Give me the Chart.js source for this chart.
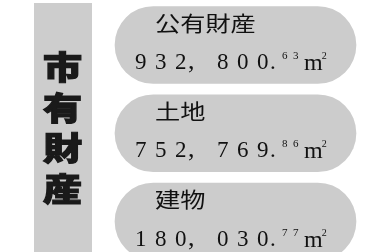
<!DOCTYPE html>
<html>
<head>
<meta charset="utf-8">
<script src="https://cdn.jsdelivr.net/npm/chart.js@4/dist/chart.umd.min.js"></script>
<style>
  body { margin: 0; background: #fff; }
  canvas { display: block; }
</style>
</head>
<body>
<canvas id="assets-chart" width="373" height="252"></canvas>
<script>
// data
const panelTitle = "市有財産";
const categories = ["公有財産", "土地", "建物"];
const areas = [932800.63, 752769.86, 180030.77];
const unitMain = "m";
const unitSup = "2";
// all three boxes are the same length in the picture
const boxLengths = [1, 1, 1];

const serif = '"Liberation Serif", "DejaVu Serif", serif';
const cjk = '"Noto Sans CJK JP", sans-serif';

function splitArea(v) {
  const parts = v.toFixed(2).split(".");
  const intPart = parts[0].replace(/\B(?=(\d{3})+(?!\d))/g, ",");
  return [intPart, parts[1]];
}

const sidePanel = {
  id: "sidePanel",
  beforeDraw(chart) {
    const ctx = chart.ctx;
    ctx.save();
    ctx.fillStyle = "#cdcdcd";
    ctx.fillRect(34, 3, 58, chart.height - 3);
    ctx.fillStyle = "#1a1a1a";
    ctx.strokeStyle = "#1a1a1a";
    ctx.lineWidth = 1.2;
    ctx.font = "900 34px " + cjk;
    ctx.textAlign = "center";
    ctx.textBaseline = "middle";
    [...panelTitle].forEach((ch, i) => {
      ctx.save();
      ctx.translate(62.5, 67 + i * 40.5);
      ctx.scale(1.15, 0.95);
      ctx.fillText(ch, 0, 0);
      ctx.strokeText(ch, 0, 0);
      ctx.restore();
    });
    ctx.restore();
  },
};

const boxText = {
  id: "boxText",
  afterDatasetsDraw(chart) {
    const ctx = chart.ctx;
    const bars = chart.getDatasetMeta(0).data;
    ctx.save();
    ctx.fillStyle = "#111";
    bars.forEach((bar, i) => {
      const left = bar.base;
      const cy = bar.y;
      // category name
      ctx.save();
      ctx.font = "21px " + cjk;
      ctx.textBaseline = "middle";
      ctx.translate(left + 40, cy - 22);
      ctx.scale(1.2, 1);
      ctx.fillText(categories[i], 0, 0);
      ctx.restore();
      // value
      ctx.textBaseline = "alphabetic";
      const [intPart, decPart] = splitArea(areas[i]);
      let x = left + 20;
      const base = cy + 24;
      for (const ch of intPart) {
        if (ch === ",") {
          ctx.font = "26px " + serif;
          ctx.fillText(ch, x - 7, base);
          x += 22;
        } else {
          ctx.font = "23px " + serif;
          ctx.fillText(ch, x, base);
          x += 20;
        }
      }
      ctx.font = "23px " + serif;
      x -= 7;
      ctx.fillText(".", x, base);
      x += 12;
      ctx.font = "11px " + serif;
      for (const ch of decPart) {
        ctx.fillText(ch, x, base - 10);
        x += 11;
      }
      ctx.font = "24px " + serif;
      ctx.fillText(unitMain, x, base + 1);
      x += ctx.measureText(unitMain).width - 1;
      ctx.font = "10px " + serif;
      ctx.fillText(unitSup, x, base - 10);
    });
    ctx.restore();
  },
};

const chartRef = document.getElementById("assets-chart");
const assetsChart = new Chart(chartRef, {
  type: "bar",
  data: {
    labels: categories,
    datasets: [
      {
        data: boxLengths,
        backgroundColor: "#cccccc",
        barThickness: 77,
        borderRadius: 38.5,
        borderSkipped: false,
        clip: false,
      },
    ],
  },
  options: {
    indexAxis: "y",
    responsive: false,
    animation: false,
    layout: { padding: { left: 115, right: 17, top: 45, bottom: 30.5 } },
    plugins: { legend: { display: false }, tooltip: { enabled: false } },
    scales: {
      x: { display: false, min: 0, max: 1 },
      y: { display: false, offset: false },
    },
  },
  plugins: [sidePanel, boxText],
});
</script>
</body>
</html>
